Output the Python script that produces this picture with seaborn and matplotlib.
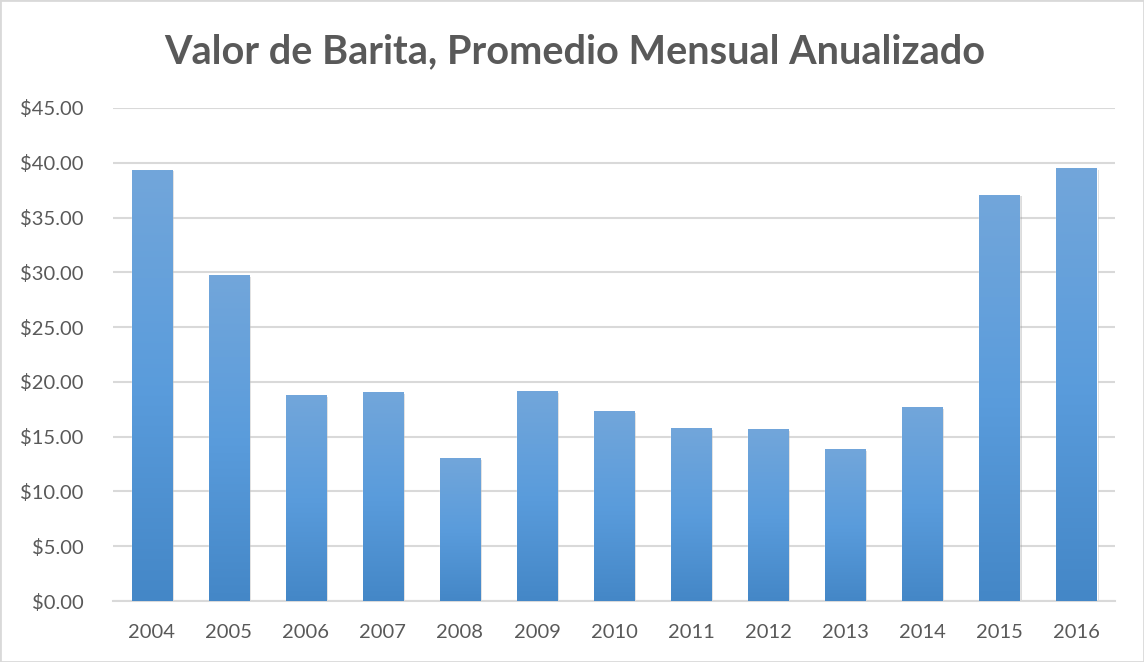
import numpy as np
import pandas as pd
import matplotlib
matplotlib.use("Agg")
import matplotlib.pyplot as plt
import matplotlib.patheffects as pe
from matplotlib.colors import LinearSegmentedColormap
from matplotlib.patches import Rectangle
from matplotlib.ticker import FuncFormatter
import seaborn as sns

# annual average of the monthly barite value (USD)
years = ["2004", "2005", "2006", "2007", "2008", "2009", "2010",
         "2011", "2012", "2013", "2014", "2015", "2016"]
values = [39.33, 29.74, 18.79, 19.06, 13.03, 19.15, 17.32,
          15.77, 15.69, 13.86, 17.69, 37.05, 39.43]
title = "Valor de Barita, Promedio Mensual Anualizado"

text_grey = "#595959"
grid_grey = "#D9D9D9"

sns.set_theme(style="white")
plt.rcParams["font.family"] = ["Lato", "DejaVu Sans"]

df = pd.DataFrame({"year": years, "value": values})

fig = plt.figure(figsize=(11.44, 6.62), dpi=100)
ax = fig.add_axes([0.0988, 0.0921, 0.8759, 0.7448])

ax = sns.barplot(data=df, x="year", y="value", width=0.52,
                 color="#5B9BD5", saturation=1, ax=ax, zorder=2)

# excel-ish vertical gradient + soft shadow on every bar
cmap = LinearSegmentedColormap.from_list(
    "bar", ["#4487C7", "#5A9CDC", "#72A6DA"])
grad = np.linspace(0, 1, 256).reshape(-1, 1)
for p in ax.patches:
    x0, y0 = p.get_x(), p.get_y()
    w, h = p.get_width(), p.get_height()
    p.set_path_effects([pe.SimplePatchShadow(offset=(1.5, -1), shadow_rgbFace="#8C8C8C", alpha=0.3),
                        pe.Normal()])
    ax.imshow(grad, extent=[x0, x0 + w, y0, y0 + h], origin="lower",
              aspect="auto", cmap=cmap, zorder=3, interpolation="bilinear")

ax.set_xlim(-0.5, len(years) - 0.5)
ax.set_ylim(0, 45)
ax.set_yticks(np.arange(0, 46, 5))
ax.yaxis.set_major_formatter(FuncFormatter(lambda v, pos: f"${v:,.2f}"))

ax.grid(axis="y", color=grid_grey, linewidth=1.5, zorder=0)
ax.set_axisbelow(True)
for side in ["left", "right", "top"]:
    ax.spines[side].set_visible(False)
ax.spines["bottom"].set_color(grid_grey)
ax.spines["bottom"].set_linewidth(1.5)

ax.tick_params(axis="both", length=0, labelsize=14.5, labelcolor=text_grey)
ax.tick_params(axis="y", pad=21)
ax.tick_params(axis="x", pad=16.5)
ax.set_xlabel("")
ax.set_ylabel("")

fig.text(0.502, 0.922, title, ha="center", va="center",
         fontsize=28.5, fontweight="bold", color=text_grey)

# chart area border
fig.patches.append(Rectangle((0, 0), 1, 1, transform=fig.transFigure,
                             fill=False, edgecolor=grid_grey, linewidth=2))

fig.savefig("out.png", dpi=100, facecolor="white")
